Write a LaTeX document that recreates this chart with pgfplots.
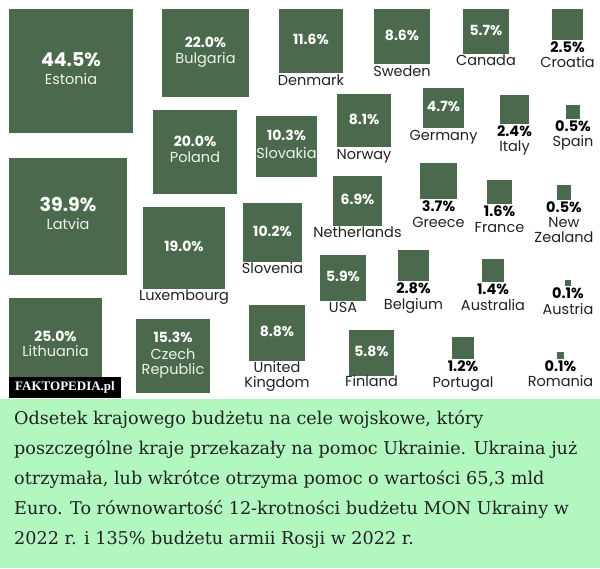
\documentclass[border=0pt]{standalone}
\usepackage{pgfplots}
\pgfplotsset{compat=1.18}
\usepackage{pgfplotstable}
\usepackage{fontspec}
\setmainfont{Poppins}
\newfontfamily\slab{DejaVu Serif}
\newfontfamily\wm{Liberation Serif}
\definecolor{sq}{RGB}{75,106,77}
\definecolor{bgg}{RGB}{178,247,192}
\definecolor{txt}{RGB}{34,34,34}
\definecolor{inname}{RGB}{236,243,236}

% share of national defence budget; cx, cy = centre of square (px)
\pgfplotstableread{
cx cy v dy
71 71 44.5 -8
68 216.5 39.9 -8.5
}\bigin
\pgfplotstableread{
cx cy v dy
55.5 345 25.0 -7
205.5 53 22.0 -9
195 152 20.0 -9
173 356 15.3 -17
286.5 146.5 10.3 -10
}\inboth
\pgfplotstableread{
cx cy v dy
184 248 19.0 0
311 41 11.6 0
272.5 232.5 10.2 0
277 333 8.8 0
402 36.5 8.6 0
364 120.5 8.1 0
357.5 201 6.9 0
343 278 5.9 0
371.5 353 5.8 0
486 31.5 5.7 0
443.5 108 4.7 0
}\incenter
\pgfplotstableread{
cx cy v
438.5 181 3.7
567.5 24.5 2.5
514.5 109.5 2.4
573 112 0.5
499.5 192 1.6
564 192.5 0.5
413.5 265.5 2.8
493 270.5 1.4
568 283 0.1
463 348 1.2
560.5 355.5 0.1
}\below

\pgfplotsset{
  sqr/.style={scatter, only marks, mark=square*,
    scatter/use mapped color={draw=sq,fill=sq}, line width=0pt,
    visualization depends on={9.22*sqrt(\thisrow{v}) \as \hs},
    scatter/@pre marker code/.append style={/tikz/mark size=\hs}},
  vlab/.style={draw=none, mark=none, point meta=\thisrow{v},
    nodes near coords={\pgfmathprintnumber[fixed,fixed zerofill,precision=1]{\pgfplotspointmeta}\%},
    nodes near coords align=center,
    every node near coord/.append style={anchor=center, inner sep=0pt, text height=0.7em, text depth=0pt, font=\bfseries\fontsize{#1}{#1}\selectfont}},
  nlab/.style={draw=none, mark=none, point meta=explicit symbolic,
    nodes near coords, nodes near coords align=center,
    every node near coord/.append style={anchor=center, inner sep=0pt, text height=0.7em, text depth=0pt, font=\fontsize{14.5}{14.5}\selectfont}},
}

\begin{document}
\begin{tikzpicture}
\begin{axis}[width=600pt, height=568pt, scale only axis,
  xmin=0, xmax=600, ymin=0, ymax=568, y dir=reverse,
  hide axis, clip=false,
  /pgf/number format/assume math mode=true]
\fill[white] (axis cs:0,0) rectangle (axis cs:600,399);
\fill[bgg] (axis cs:0,399) rectangle (axis cs:600,568);

% squares
\addplot[sqr] table[x=cx,y=cy] {\bigin};
\addplot[sqr] table[x=cx,y=cy] {\inboth};
\addplot[sqr] table[x=cx,y=cy] {\incenter};
\addplot[sqr] table[x=cx,y=cy] {\below};

% value labels
\addplot[vlab=19, every node near coord/.append style={text=white}] table[x=cx, y expr=\thisrow{cy}+\thisrow{dy}] {\bigin};
\addplot[vlab=14, every node near coord/.append style={text=white}] table[x=cx, y expr=\thisrow{cy}+\thisrow{dy}] {\inboth};
\addplot[vlab=14, every node near coord/.append style={text=white}] table[x=cx, y expr=\thisrow{cy}+\thisrow{dy}] {\incenter};
\addplot[vlab=14.5, every node near coord/.append style={text=black}] table[x=cx, y expr=\thisrow{cy}+9.22*sqrt(\thisrow{v})+9.5] {\below};

% names inside squares
\addplot[nlab, every node near coord/.append style={text=inname}] coordinates {
(71,81) [Estonia] (68,226) [Latvia] (55.5,353) [Lithuania]
(205.5,60) [Bulgaria] (195,159) [Poland] (173,356) [Czech] (173,371) [Republic]
(286.5,155) [Slovakia]
};
% names below squares
\addplot[nlab, every node near coord/.append style={text=txt}] coordinates {
(184,297) [Luxembourg] (311,82) [Denmark] (272.5,270) [Slovenia]
(277,369) [United] (277,384) [Kingdom] (402,73) [Sweden] (364,156) [Norway]
(357.5,234) [Netherlands] (343,309) [USA] (371.5,383) [Finland] (486,62) [Canada]
(443.5,137) [Germany] (438.5,224) [Greece] (567.5,64) [Croatia] (514.5,148) [Italy]
(573,143) [Spain] (499.5,229) [France] (564,224) [New] (564,239) [Zealand]
(413.5,306) [Belgium] (493,307) [Australia] (568,311) [Austria]
(463,384) [Portugal] (560.5,383) [Romania]
};

\begin{scope}[every node/.style={anchor=base west, inner sep=0pt, text=txt, font=\slab\fontsize{17.6}{20}\selectfont}]
\node at (axis cs:14,424) {Odsetek krajowego budżetu na cele wojskowe, który};
\node at (axis cs:14,454) {poszczególne kraje przekazały na pomoc Ukrainie. Ukraina już};
\node at (axis cs:14,484) {otrzymała, lub wkrótce otrzyma pomoc o wartości 65,3 mld};
\node at (axis cs:14,514) {Euro. To równowartość 12-krotności budżetu MON Ukrainy w};
\node at (axis cs:14,544) {2022 r. i 135\% budżetu armii Rosji w 2022 r.};
\end{scope}
\end{axis}
% watermark, drawn on top of the squares (axis unit = 1pt, origin at lower left)
\node[fill=black, text=white, inner sep=0pt, minimum width=112pt, minimum height=21pt,
  font=\wm\bfseries\fontsize{13}{13}\selectfont] at (65pt,180.5pt) {FAKTOPEDIA.pl};
\end{tikzpicture}
\end{document}
